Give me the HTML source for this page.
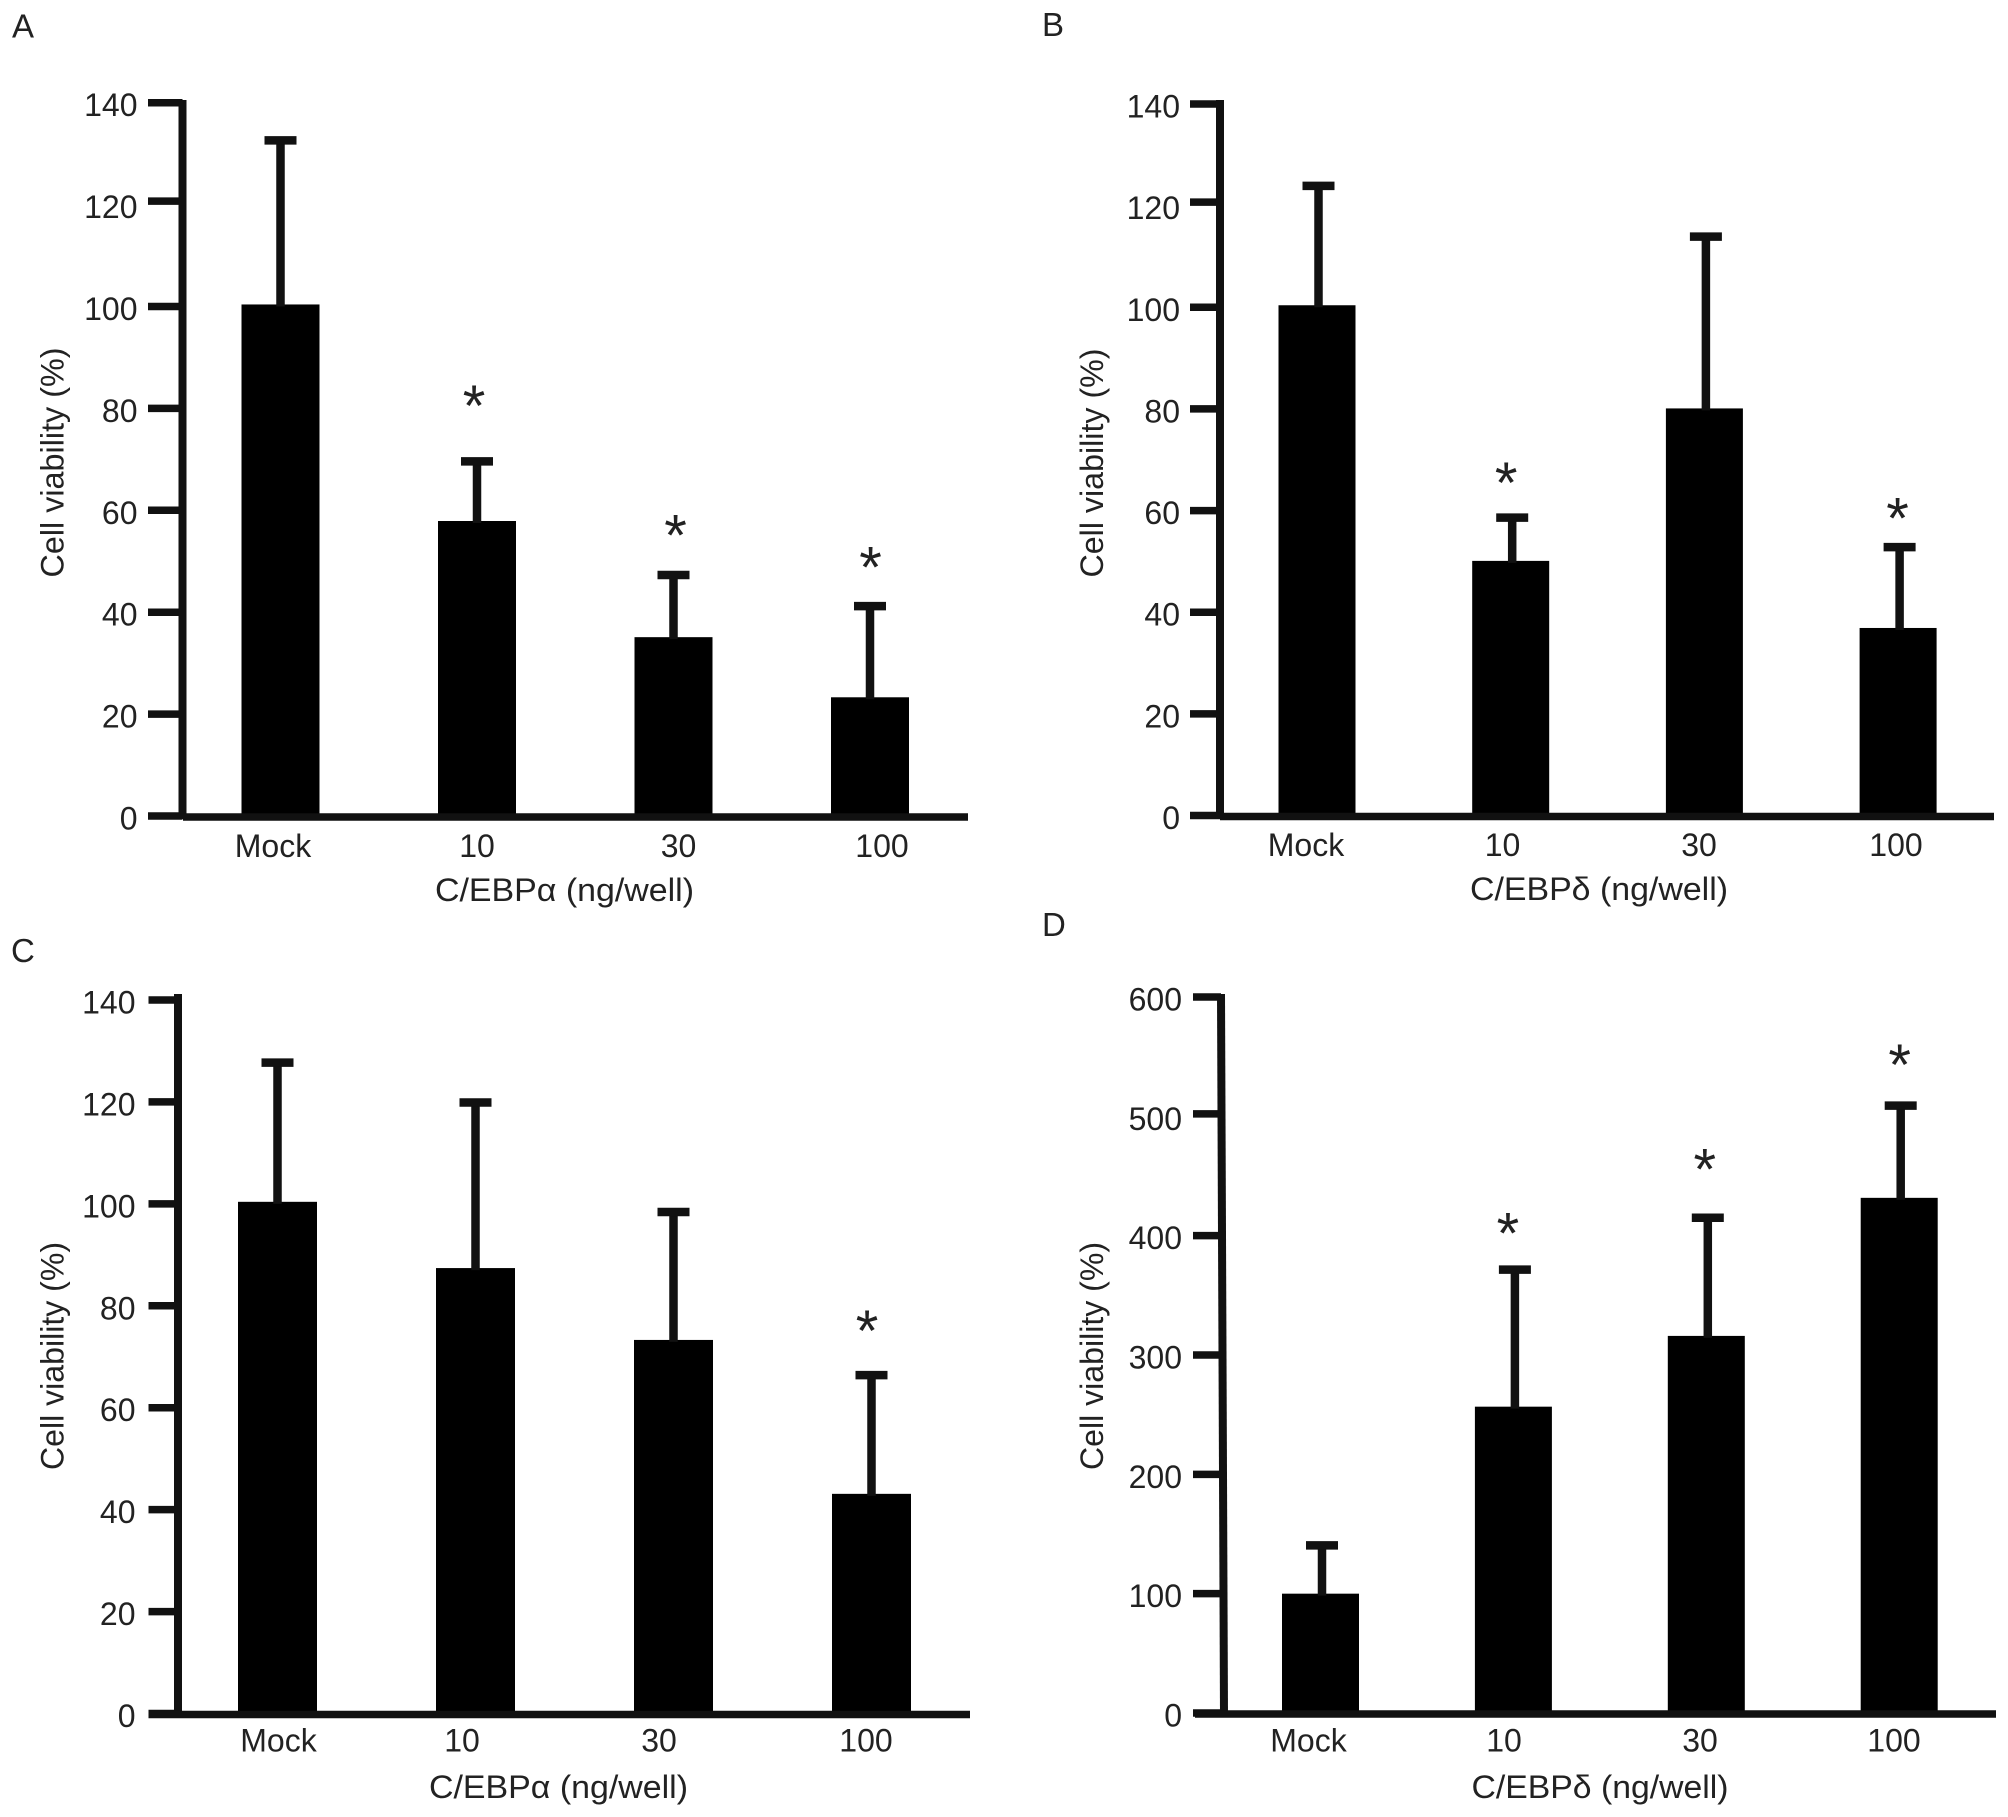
<!DOCTYPE html>
<html lang="en">
<head>
<meta charset="utf-8">
<title>Cell viability panels</title>
<style>
html,body{margin:0;padding:0;background:#fff;}
svg{display:block;}
text{font-family:"Liberation Sans","DejaVu Sans",sans-serif;fill:#222;}
</style>
</head>
<body>
<svg id="figure" xmlns="http://www.w3.org/2000/svg" width="2008" height="1817" viewBox="0 0 2008 1817">
  <rect x="0" y="0" width="2008" height="1817" fill="#fff"/>

  <text x="12" y="37.5" font-size="33">A</text>
  <text x="1042" y="36" font-size="33">B</text>
  <text x="11" y="962" font-size="33">C</text>
  <text x="1042" y="936" font-size="33">D</text>

  <text transform="translate(63.5 462.5) rotate(-90)" text-anchor="middle" font-size="32" textLength="230" lengthAdjust="spacingAndGlyphs">Cell viability (%)</text>
  <text transform="translate(1103 463) rotate(-90)" text-anchor="middle" font-size="32" textLength="229" lengthAdjust="spacingAndGlyphs">Cell viability (%)</text>
  <text transform="translate(63.5 1356) rotate(-90)" text-anchor="middle" font-size="32" textLength="228" lengthAdjust="spacingAndGlyphs">Cell viability (%)</text>
  <text transform="translate(1103 1356) rotate(-90)" text-anchor="middle" font-size="32" textLength="228" lengthAdjust="spacingAndGlyphs">Cell viability (%)</text>

  <text x="564.5" y="901" text-anchor="middle" font-size="32" textLength="259" lengthAdjust="spacingAndGlyphs">C/EBPα (ng/well)</text>
  <text x="1599" y="900" text-anchor="middle" font-size="32" textLength="258" lengthAdjust="spacingAndGlyphs">C/EBPδ (ng/well)</text>
  <text x="558.5" y="1798" text-anchor="middle" font-size="32" textLength="259" lengthAdjust="spacingAndGlyphs">C/EBPα (ng/well)</text>
  <text x="1600" y="1798" text-anchor="middle" font-size="32" textLength="257" lengthAdjust="spacingAndGlyphs">C/EBPδ (ng/well)</text>

  <g id="panel-a"></g>
  <g id="panel-b"></g>
  <g id="panel-c"></g>
  <g id="panel-d"></g>
</svg>

<script>
// ---- chart data ----
const categories = ["Mock", "10", "30", "100"];
const percentTicks = [0, 20, 40, 60, 80, 100, 120, 140];
const inductionTicks = [0, 100, 200, 300, 400, 500, 600];

const panelAMeans = [100.4, 57.9, 35.1, 23.3];
const panelAErrorTops = [132.6, 69.6, 47.3, 41.2];
const panelAStarLevels = [null, 81.6, 56.2, 50];

const panelBMeans = [100.4, 50.1, 80.1, 36.9];
const panelBErrorTops = [123.9, 58.6, 113.9, 52.8];
const panelBStarLevels = [null, 66.6, null, 59.6];

const panelCMeans = [100.4, 87.4, 73.3, 43.1];
const panelCErrorTops = [127.7, 119.9, 98.4, 66.4];
const panelCStarLevels = [null, null, null, 76.2];

const panelDMeans = [100, 256.7, 316, 431.7];
const panelDErrorTops = [140.5, 371.5, 415, 509];
const panelDStarLevels = [null, 407, 460.5, 548];

// ---- drawing ----
const SVG_NS = "http://www.w3.org/2000/svg";
const INK = "#111";

function make(parent, tag, attrs, content) {
  const el = document.createElementNS(SVG_NS, tag);
  for (const k in attrs) el.setAttribute(k, attrs[k]);
  if (content !== undefined) el.textContent = content;
  parent.appendChild(el);
  return el;
}

function drawPanel(cfg) {
  const root = document.getElementById(cfg.id);
  const maxTick = cfg.ticks[cfg.ticks.length - 1];
  const yScale = function (v) { return cfg.y0 + (cfg.yMax - cfg.y0) * v / maxTick; };
  const barLeft = function (i) { return cfg.barStart + i * cfg.barStep; };
  const barCenter = function (i) { return barLeft(i) + cfg.barWidth / 2; };

  cfg.means.forEach(function (v, i) {
    const bar = make(root, "rect", {
      x: barLeft(i), y: yScale(v), width: cfg.barWidth, height: cfg.y0 - yScale(v), fill: "#000"
    });
    
    
  });

  cfg.errorTops.forEach(function (v, i) {
    const cx = barCenter(i) + cfg.stemShift;
    const stem = make(root, "line", {
      x1: cx, x2: cx, y1: yScale(v), y2: yScale(cfg.means[i]) + 2, stroke: INK, "stroke-width": 8.5
    });
    
    
    const cap = make(root, "line", {
      x1: cx - 16, x2: cx + 16, y1: yScale(v), y2: yScale(v), stroke: INK, "stroke-width": 8.5
    });
    
    
  });

  cfg.stars.forEach(function (v, i) {
    if (v === null) return;
    const star = make(root, "text", {
      x: barCenter(i) + cfg.stemShift - 2 + cfg.starNudge[i], y: yScale(v) + 26, "text-anchor": "middle",
      "font-size": 58
    }, "*");
    
    
  });

  cfg.ticks.forEach(function (t) {
    const y = yScale(t);
    const markY = y + (cfg.tickNudge[t] || 0);
    const mark = make(root, "line", {
      x1: cfg.tickLeft, x2: cfg.axisTopX, y1: markY, y2: markY, stroke: INK, "stroke-width": 7.5
    });
    
    
    const label = make(root, "text", {
      x: cfg.tickTextRight, y: y + 13.5, "text-anchor": "end", "font-size": 32
    }, String(t));
    
    
  });

  categories.forEach(function (c, i) {
    const label = make(root, "text", {
      x: cfg.labelX[i], y: cfg.labelY, "text-anchor": "middle", "font-size": 32
    }, c);
    
    
  });

  const yAxis = make(root, "line", {
    x1: cfg.axisTopX, x2: cfg.axisBottomX, y1: cfg.axisTop, y2: cfg.y0 + 3, stroke: INK, "stroke-width": 8
  });
  
  
  const xAxis = make(root, "line", {
    x1: cfg.xAxisStart, x2: cfg.xAxisEnd, y1: cfg.y0 + 1, y2: cfg.y0 + 1, stroke: INK, "stroke-width": 7.5
  });
  
  
}

drawPanel({
  id: "panel-a", means: panelAMeans, errorTops: panelAErrorTops, stars: panelAStarLevels, ticks: percentTicks,
  y0: 816, yMax: 102.7, axisTop: 100, axisTopX: 182.5, axisBottomX: 182.5, tickLeft: 148, tickTextRight: 137.5,
  barStart: 241.5, barStep: 196.5, barWidth: 78, stemShift: 0, xAxisStart: 183, xAxisEnd: 968,
  labelX: [273, 477, 678.5, 882], labelY: 857, starNudge: [0, -1, 4, 2.5], tickNudge: { 120: -3.5 }
});
drawPanel({
  id: "panel-b", means: panelBMeans, errorTops: panelBErrorTops, stars: panelBStarLevels, ticks: percentTicks,
  y0: 815.5, yMax: 104, axisTop: 100, axisTopX: 1220, axisBottomX: 1220, tickLeft: 1190, tickTextRight: 1180,
  barStart: 1278.5, barStep: 193.7, barWidth: 77, stemShift: 1.5, xAxisStart: 1220, xAxisEnd: 1994,
  labelX: [1306, 1502.5, 1699, 1896], labelY: 856, starNudge: [0, -4, 0, 0], tickNudge: { 120: -3.5 }
});
drawPanel({
  id: "panel-c", means: panelCMeans, errorTops: panelCErrorTops, stars: panelCStarLevels, ticks: percentTicks,
  y0: 1713.5, yMax: 1000, axisTop: 994, axisTopX: 178, axisBottomX: 178, tickLeft: 148.5, tickTextRight: 135.5,
  barStart: 238, barStep: 198, barWidth: 79, stemShift: 0, xAxisStart: 148.5, xAxisEnd: 970,
  labelX: [278.5, 462, 659, 866], labelY: 1751.5, starNudge: [0, 0, 0, -2.5], tickNudge: {}
});
drawPanel({
  id: "panel-d", means: panelDMeans, errorTops: panelDErrorTops, stars: panelDStarLevels, ticks: inductionTicks,
  y0: 1713, yMax: 997, axisTop: 994, axisTopX: 1221, axisBottomX: 1224, tickLeft: 1193, tickTextRight: 1182,
  barStart: 1282, barStep: 192.9, barWidth: 77, stemShift: 1.5, xAxisStart: 1195, xAxisEnd: 1996,
  labelX: [1308.5, 1504, 1700, 1894], labelY: 1751.5, starNudge: [0, -5, -1, 1], tickNudge: { 500: -2.5 }
});
</script>
</body>
</html>
